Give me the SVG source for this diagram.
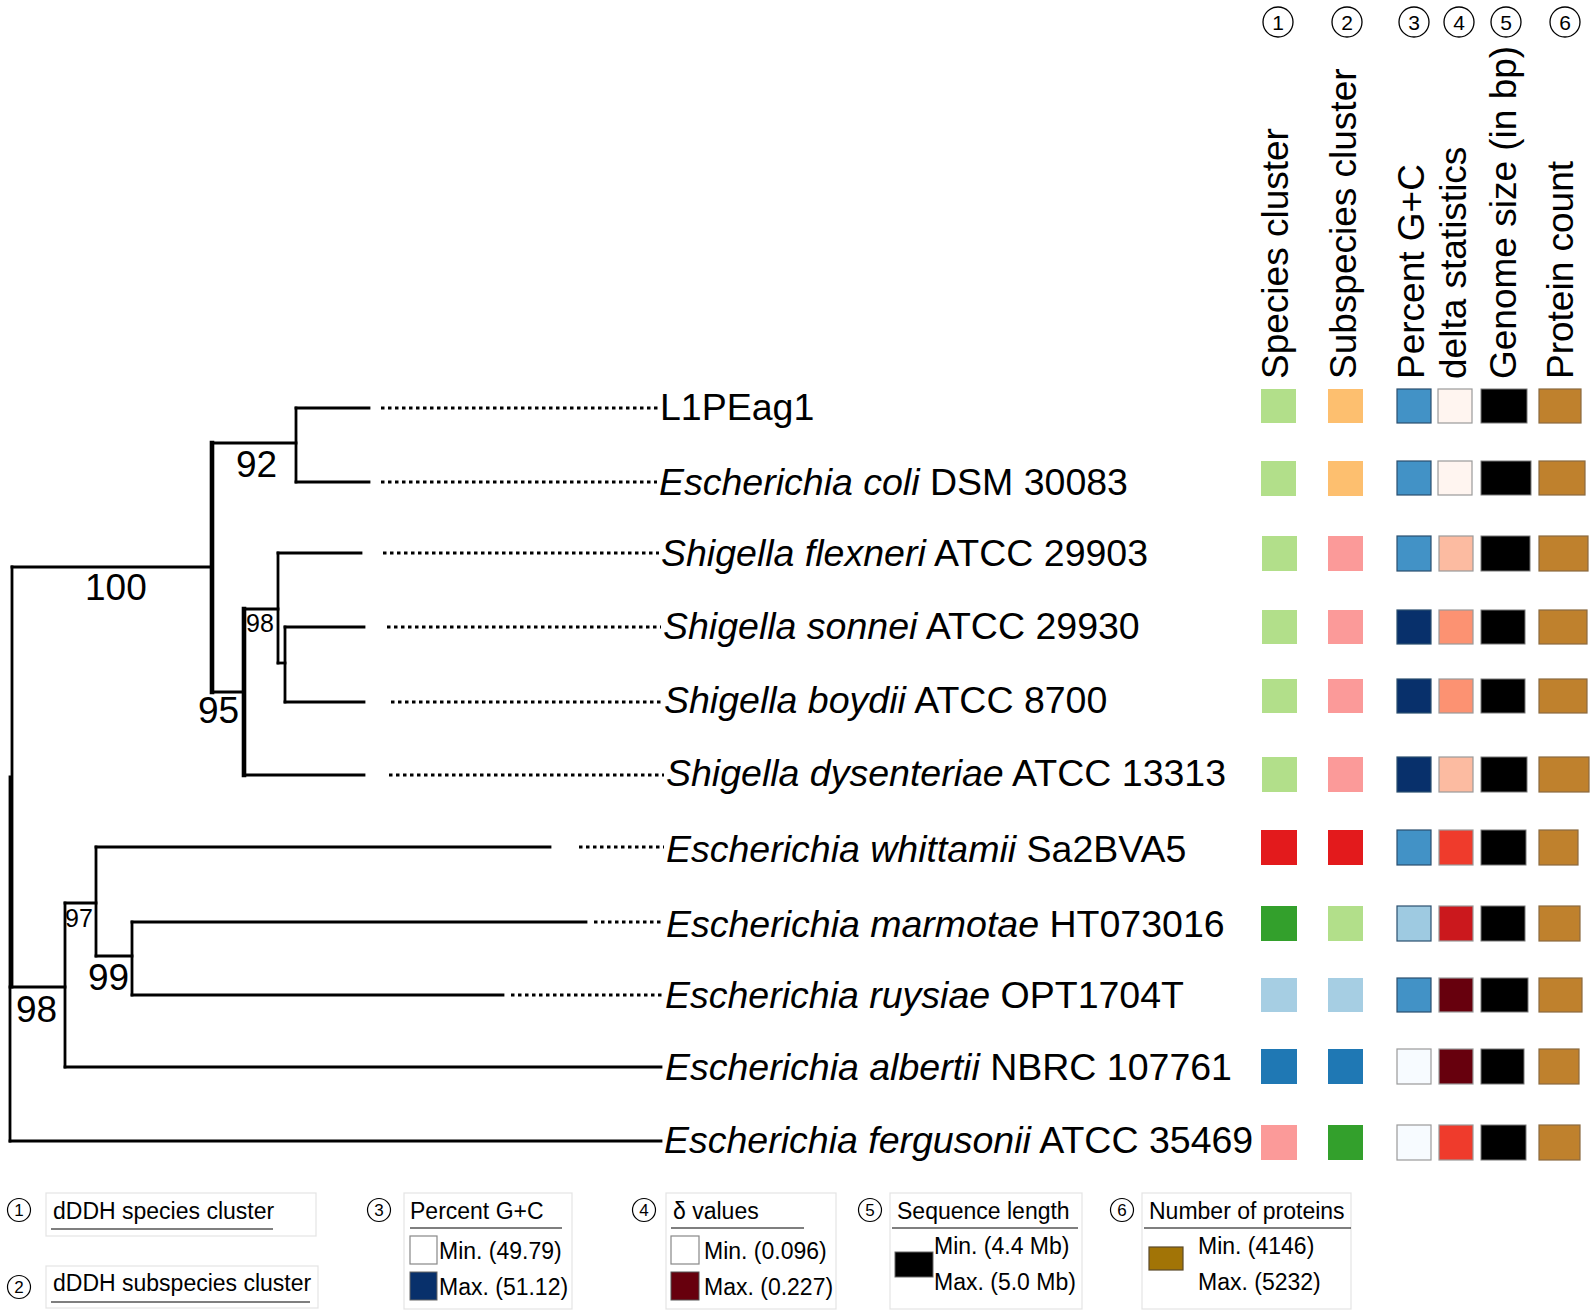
<svg xmlns="http://www.w3.org/2000/svg" width="1595" height="1315" viewBox="0 0 1595 1315">
<style>
text{font-family:"Liberation Sans",Arial,sans-serif;fill:#000}
.tx{font-size:37.5px}
.it{font-style:italic}
.bs{font-size:37px}
.sm{font-size:25px}
.hd{font-size:37px}
.br{fill:none;stroke:#000;stroke-width:2.8;stroke-linecap:square}
.thk{stroke-width:4.6}
.dot{fill:none;stroke:#000;stroke-width:2.8;stroke-dasharray:3.5 3.5}
.cn{fill:none;stroke:#000;stroke-width:1.3}
.cnt{font-size:21px;text-anchor:middle}
.lcn{fill:none;stroke:#000;stroke-width:1.2}
.lct{font-size:17px;text-anchor:middle}
.lg{font-size:23px}
.lbox{fill:#fff;stroke:#e4e4e4;stroke-width:1.2}
.ul{stroke:#000;stroke-width:1.2}
.c3{stroke:#2b4f6e;stroke-width:1.2}
.c4{stroke:#9a9a9a;stroke-width:1.2}
.c5{fill:#000;stroke:#777;stroke-width:1}
.c6{fill:#bf812d;stroke:#8a6a40;stroke-width:1.2}
</style>

<g id="connectors">
  <!-- root -->
  <line class="br" x1="12" y1="567" x2="12" y2="987"/>
  <line class="br" x1="10" y1="777" x2="10" y2="1141"/>
  <line class="br" x1="10" y1="1141" x2="661" y2="1141"/>
  <!-- clade 100 -->
  <line class="br" x1="12" y1="567" x2="212" y2="567"/>
  <line class="br thk" x1="212" y1="443" x2="212" y2="692"/>
  <!-- clade 92 -->
  <line class="br" x1="212" y1="443" x2="296" y2="443"/>
  <line class="br" x1="296" y1="408" x2="296" y2="482"/>
  <line class="br" x1="296" y1="408" x2="369" y2="408"/>
  <line class="br" x1="296" y1="482" x2="369" y2="482"/>
  <!-- clade 95 -->
  <line class="br" x1="212" y1="692" x2="244" y2="692"/>
  <line class="br thk" x1="244" y1="609" x2="244" y2="775"/>
  <line class="br" x1="244" y1="775" x2="364" y2="775"/>
  <!-- clade 98 (small) -->
  <line class="br" x1="244" y1="609" x2="278" y2="609"/>
  <line class="br" x1="278" y1="553" x2="278" y2="663"/>
  <line class="br" x1="278" y1="553" x2="361" y2="553"/>
  <line class="br" x1="278" y1="663" x2="285" y2="663"/>
  <line class="br" x1="285" y1="627" x2="285" y2="702"/>
  <line class="br" x1="285" y1="627" x2="364" y2="627"/>
  <line class="br" x1="285" y1="702" x2="364" y2="702"/>
  <!-- clade 98 (lower) -->
  <line class="br" x1="10" y1="987" x2="65" y2="987"/>
  <line class="br" x1="65" y1="903" x2="65" y2="1067"/>
  <line class="br" x1="65" y1="1067" x2="661" y2="1067"/>
  <!-- clade 97 -->
  <line class="br" x1="65" y1="903" x2="96" y2="903"/>
  <line class="br" x1="96" y1="847" x2="96" y2="956"/>
  <line class="br" x1="96" y1="847" x2="550" y2="847"/>
  <!-- clade 99 -->
  <line class="br" x1="96" y1="956" x2="132" y2="956"/>
  <line class="br" x1="132" y1="922" x2="132" y2="995"/>
  <line class="br" x1="132" y1="922" x2="586" y2="922"/>
  <line class="br" x1="132" y1="995" x2="503" y2="995"/>
  <!-- dotted leaders -->
  <line class="dot" x1="381" y1="408" x2="658" y2="408"/>
  <line class="dot" x1="381" y1="482" x2="657" y2="482"/>
  <line class="dot" x1="383" y1="553" x2="659" y2="553"/>
  <line class="dot" x1="387" y1="627" x2="661" y2="627"/>
  <line class="dot" x1="391" y1="702" x2="662" y2="702"/>
  <line class="dot" x1="389" y1="775" x2="664" y2="775"/>
  <line class="dot" x1="579" y1="847" x2="664" y2="847"/>
  <line class="dot" x1="594" y1="922" x2="664" y2="922"/>
  <line class="dot" x1="511" y1="995" x2="664" y2="995"/>
</g>

<g id="support-values">
  <text class="bs" x="85" y="600">100</text>
  <text class="bs" x="236" y="477">92</text>
  <text class="bs" x="198" y="723">95</text>
  <text class="sm" x="246" y="632">98</text>
  <text class="sm" x="65" y="927">97</text>
  <text class="bs" x="88" y="990">99</text>
  <text class="bs" x="16" y="1022">98</text>
</g>

<g id="taxon-L1PEag1"><text class="tx" x="660" y="420">L1PEag1</text></g>
<g id="taxon-coli"><text class="tx" x="659" y="495"><tspan class="it">Escherichia coli</tspan> DSM 30083</text></g>
<g id="taxon-flexneri"><text class="tx" x="661" y="566"><tspan class="it">Shigella flexneri</tspan> ATCC 29903</text></g>
<g id="taxon-sonnei"><text class="tx" x="663" y="639"><tspan class="it">Shigella sonnei</tspan> ATCC 29930</text></g>
<g id="taxon-boydii"><text class="tx" x="664" y="713"><tspan class="it">Shigella boydii</tspan> ATCC 8700</text></g>
<g id="taxon-dysenteriae"><text class="tx" x="666" y="786"><tspan class="it">Shigella dysenteriae</tspan> ATCC 13313</text></g>
<g id="taxon-whittamii"><text class="tx" x="666" y="862"><tspan class="it">Escherichia whittamii</tspan> Sa2BVA5</text></g>
<g id="taxon-marmotae"><text class="tx" x="666" y="937"><tspan class="it">Escherichia marmotae</tspan> HT073016</text></g>
<g id="taxon-ruysiae"><text class="tx" x="665" y="1008"><tspan class="it">Escherichia ruysiae</tspan> OPT1704T</text></g>
<g id="taxon-albertii"><text class="tx" x="665" y="1080"><tspan class="it">Escherichia albertii</tspan> NBRC 107761</text></g>
<g id="taxon-fergusonii"><text class="tx" x="664" y="1153"><tspan class="it">Escherichia fergusonii</tspan> ATCC 35469</text></g>

<g id="column-headers">
  <circle class="cn" cx="1278" cy="22" r="15"/><text class="cnt" x="1278" y="29.5">1</text>
  <circle class="cn" cx="1347" cy="22" r="15"/><text class="cnt" x="1347" y="29.5">2</text>
  <circle class="cn" cx="1414" cy="22" r="15"/><text class="cnt" x="1414" y="29.5">3</text>
  <circle class="cn" cx="1459" cy="22" r="15"/><text class="cnt" x="1459" y="29.5">4</text>
  <circle class="cn" cx="1506" cy="22" r="15"/><text class="cnt" x="1506" y="29.5">5</text>
  <circle class="cn" cx="1565" cy="22" r="15"/><text class="cnt" x="1565" y="29.5">6</text>
  <text class="hd" transform="translate(1288,379) rotate(-90)">Species cluster</text>
  <text class="hd" transform="translate(1356,379) rotate(-90)">Subspecies cluster</text>
  <text class="hd" transform="translate(1424,379) rotate(-90)">Percent G+C</text>
  <text class="hd" transform="translate(1466,379) rotate(-90)">delta statistics</text>
  <text class="hd" transform="translate(1516,379) rotate(-90)">Genome size (in bp)</text>
  <text class="hd" transform="translate(1573,379) rotate(-90)">Protein count</text>
</g>

<g id="matrix">
  <g id="row1">
    <rect x="1261" y="389" width="35" height="34" fill="#b2df8a"/>
    <rect x="1328" y="389" width="35" height="34" fill="#fdbf6f"/>
    <rect class="c3" x="1397" y="389" width="34" height="34" fill="#4292c6"/>
    <rect class="c4" x="1438" y="389" width="34" height="34" fill="#fff5f0"/>
    <rect class="c5" x="1481" y="389" width="46" height="34"/>
    <rect class="c6" x="1539" y="389" width="42" height="34"/>
  </g>
  <g id="row2">
    <rect x="1261" y="461" width="35" height="35" fill="#b2df8a"/>
    <rect x="1328" y="461" width="35" height="35" fill="#fdbf6f"/>
    <rect class="c3" x="1397" y="461" width="34" height="34" fill="#4292c6"/>
    <rect class="c4" x="1438" y="461" width="34" height="34" fill="#fff5f0"/>
    <rect class="c5" x="1481" y="461" width="50" height="34"/>
    <rect class="c6" x="1539" y="461" width="46" height="34"/>
  </g>
  <g id="row3">
    <rect x="1262" y="536" width="35" height="35" fill="#b2df8a"/>
    <rect x="1328" y="536" width="35" height="35" fill="#fb9a99"/>
    <rect class="c3" x="1397" y="536" width="34" height="35" fill="#4292c6"/>
    <rect class="c4" x="1439" y="536" width="34" height="35" fill="#fcbba1"/>
    <rect class="c5" x="1481" y="536" width="49" height="35"/>
    <rect class="c6" x="1539" y="536" width="49" height="35"/>
  </g>
  <g id="row4">
    <rect x="1262" y="610" width="35" height="34" fill="#b2df8a"/>
    <rect x="1328" y="610" width="35" height="34" fill="#fb9a99"/>
    <rect class="c3" x="1397" y="610" width="34" height="34" fill="#08306b"/>
    <rect class="c4" x="1439" y="610" width="34" height="34" fill="#fc9272"/>
    <rect class="c5" x="1481" y="610" width="44" height="34"/>
    <rect class="c6" x="1539" y="610" width="48" height="34"/>
  </g>
  <g id="row5">
    <rect x="1262" y="679" width="35" height="34" fill="#b2df8a"/>
    <rect x="1328" y="679" width="35" height="34" fill="#fb9a99"/>
    <rect class="c3" x="1397" y="679" width="34" height="34" fill="#08306b"/>
    <rect class="c4" x="1439" y="679" width="34" height="34" fill="#fc9272"/>
    <rect class="c5" x="1481" y="679" width="44" height="34"/>
    <rect class="c6" x="1539" y="679" width="48" height="34"/>
  </g>
  <g id="row6">
    <rect x="1262" y="757" width="35" height="35" fill="#b2df8a"/>
    <rect x="1328" y="757" width="35" height="35" fill="#fb9a99"/>
    <rect class="c3" x="1397" y="757" width="34" height="35" fill="#08306b"/>
    <rect class="c4" x="1439" y="757" width="34" height="35" fill="#fcbba1"/>
    <rect class="c5" x="1481" y="757" width="46" height="35"/>
    <rect class="c6" x="1539" y="757" width="50" height="35"/>
  </g>
  <g id="row7">
    <rect x="1261" y="830" width="36" height="35" fill="#e31a1c"/>
    <rect x="1328" y="830" width="35" height="35" fill="#e31a1c"/>
    <rect class="c3" x="1397" y="830" width="34" height="35" fill="#4292c6"/>
    <rect class="c4" x="1439" y="830" width="34" height="35" fill="#ef3b2c"/>
    <rect class="c5" x="1481" y="830" width="45" height="35"/>
    <rect class="c6" x="1539" y="830" width="39" height="35"/>
  </g>
  <g id="row8">
    <rect x="1261" y="906" width="36" height="35" fill="#33a02c"/>
    <rect x="1328" y="906" width="35" height="35" fill="#b2df8a"/>
    <rect class="c3" x="1397" y="906" width="34" height="35" fill="#9ecae1"/>
    <rect class="c4" x="1439" y="906" width="34" height="35" fill="#cb181d"/>
    <rect class="c5" x="1481" y="906" width="44" height="35"/>
    <rect class="c6" x="1539" y="906" width="41" height="35"/>
  </g>
  <g id="row9">
    <rect x="1261" y="978" width="36" height="34" fill="#a6cee3"/>
    <rect x="1328" y="978" width="35" height="34" fill="#a6cee3"/>
    <rect class="c3" x="1397" y="978" width="34" height="34" fill="#4292c6"/>
    <rect class="c4" x="1439" y="978" width="34" height="34" fill="#67000d"/>
    <rect class="c5" x="1481" y="978" width="47" height="34"/>
    <rect class="c6" x="1539" y="978" width="43" height="34"/>
  </g>
  <g id="row10">
    <rect x="1261" y="1049" width="36" height="35" fill="#1f78b4"/>
    <rect x="1328" y="1049" width="35" height="35" fill="#1f78b4"/>
    <rect class="c4" x="1397" y="1049" width="34" height="35" fill="#f7fbff"/>
    <rect class="c4" x="1439" y="1049" width="34" height="35" fill="#67000d"/>
    <rect class="c5" x="1481" y="1049" width="43" height="35"/>
    <rect class="c6" x="1539" y="1049" width="40" height="35"/>
  </g>
  <g id="row11">
    <rect x="1261" y="1125" width="36" height="35" fill="#fb9a99"/>
    <rect x="1328" y="1125" width="35" height="35" fill="#33a02c"/>
    <rect class="c4" x="1397" y="1125" width="34" height="35" fill="#f7fbff"/>
    <rect class="c4" x="1439" y="1125" width="34" height="35" fill="#ef3b2c"/>
    <rect class="c5" x="1481" y="1125" width="45" height="35"/>
    <rect class="c6" x="1539" y="1125" width="41" height="35"/>
  </g>
</g>

<g id="legend">
  <g id="legend-1">
    <circle class="lcn" cx="19" cy="1210" r="11.5"/><text class="lct" x="19" y="1216">1</text>
    <rect class="lbox" x="46" y="1193" width="270" height="43"/>
    <text class="lg" x="53" y="1219">dDDH species cluster</text>
    <line class="ul" x1="51" y1="1229" x2="273" y2="1229"/>
  </g>
  <g id="legend-2">
    <circle class="lcn" cx="19" cy="1287" r="11.5"/><text class="lct" x="19" y="1293">2</text>
    <rect class="lbox" x="46" y="1266" width="272" height="42"/>
    <text class="lg" x="53" y="1291">dDDH subspecies cluster</text>
    <line class="ul" x1="51" y1="1302" x2="310" y2="1302"/>
  </g>
  <g id="legend-3">
    <circle class="lcn" cx="379" cy="1210" r="11.5"/><text class="lct" x="379" y="1216">3</text>
    <rect class="lbox" x="404" y="1193" width="168" height="116"/>
    <text class="lg" x="410" y="1219">Percent G+C</text>
    <line class="ul" x1="410" y1="1228" x2="562" y2="1228"/>
    <rect x="410" y="1236" width="27" height="28" fill="#fff" stroke="#888" stroke-width="1.2"/>
    <text class="lg" x="439" y="1259">Min. (49.79)</text>
    <rect x="410" y="1272" width="27" height="28" fill="#08306b" stroke="#666" stroke-width="1"/>
    <text class="lg" x="439" y="1295">Max. (51.12)</text>
  </g>
  <g id="legend-4">
    <circle class="lcn" cx="644" cy="1210" r="11.5"/><text class="lct" x="644" y="1216">4</text>
    <rect class="lbox" x="666" y="1193" width="170" height="116"/>
    <text class="lg" x="673" y="1219">δ values</text>
    <line class="ul" x1="671" y1="1228" x2="804" y2="1228"/>
    <rect x="671" y="1236" width="28" height="28" fill="#fff" stroke="#888" stroke-width="1.2"/>
    <text class="lg" x="704" y="1259">Min. (0.096)</text>
    <rect x="671" y="1272" width="28" height="28" fill="#67000d" stroke="#555" stroke-width="1"/>
    <text class="lg" x="704" y="1295">Max. (0.227)</text>
  </g>
  <g id="legend-5">
    <circle class="lcn" cx="870" cy="1210" r="11.5"/><text class="lct" x="870" y="1216">5</text>
    <rect class="lbox" x="890" y="1193" width="192" height="116"/>
    <text class="lg" x="897" y="1219">Sequence length</text>
    <line class="ul" x1="892" y1="1228" x2="1078" y2="1228"/>
    <rect x="895" y="1252" width="38" height="25" fill="#000" stroke="#666" stroke-width="1"/>
    <text class="lg" x="934" y="1254">Min. (4.4 Mb)</text>
    <text class="lg" x="934" y="1290">Max. (5.0 Mb)</text>
  </g>
  <g id="legend-6">
    <circle class="lcn" cx="1122" cy="1210" r="11.5"/><text class="lct" x="1122" y="1216">6</text>
    <rect class="lbox" x="1142" y="1193" width="209" height="116"/>
    <text class="lg" x="1149" y="1219">Number of proteins</text>
    <line class="ul" x1="1144" y1="1228" x2="1351" y2="1228"/>
    <rect x="1149" y="1247" width="34" height="23" fill="#a27406" stroke="#5a4a2a" stroke-width="1.2"/>
    <text class="lg" x="1198" y="1254">Min. (4146)</text>
    <text class="lg" x="1198" y="1290">Max. (5232)</text>
  </g>
</g>
</svg>
